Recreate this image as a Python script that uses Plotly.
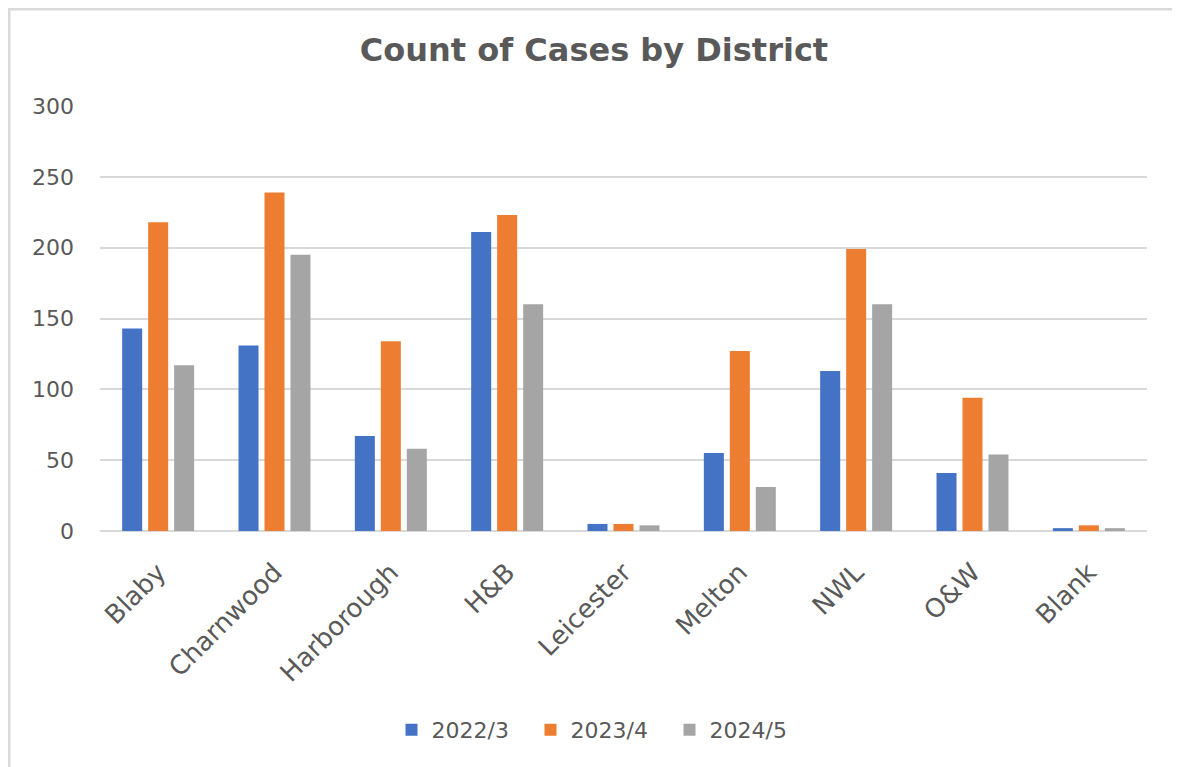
import plotly.graph_objects as go

districts = ["Blaby", "Charnwood", "Harborough", "H&B", "Leicester", "Melton", "NWL", "O&W", "Blank"]
cases_2022_3 = [143, 131, 67, 211, 5, 55, 113, 41, 2]
cases_2023_4 = [218, 239, 134, 223, 5, 127, 199, 94, 4]
cases_2024_5 = [117, 195, 58, 160, 4, 31, 160, 54, 2]
series_names = ["2022/3", "2023/4", "2024/5"]
colors = ["#4472C4", "#ED7D31", "#A5A5A5"]
y_ticks = [0, 50, 100, 150, 200, 250, 300]

# page has an 8px body margin; figure sized to fit the 1180x767 window
OFF = 8
W, H = 1180 - OFF, 767 - OFF
L, R, T = 100 - OFF, 1180 - 1147, 106 - OFF
B = H - (531 - OFF)
FONT = "DejaVu Sans"
TXT = "#595959"

fig = go.Figure()
for name, vals, col in zip(series_names, [cases_2022_3, cases_2023_4, cases_2024_5], colors):
    fig.add_trace(go.Bar(x=districts, y=vals, name=name, marker=dict(color=col, line=dict(width=0))))

pw = W - L - R
ph = H - T - B
def px_x(p):
    return (p - OFF - L) / pw
def px_y(p):
    return (H - B - (p - OFF)) / ph

fig.update_layout(
    width=W, height=H,
    margin=dict(l=L, r=R, t=T, b=B),
    paper_bgcolor="white", plot_bgcolor="white",
    barmode="group", bargap=0.33, bargroupgap=0.23,
    font=dict(family=FONT, color=TXT),
    title=dict(text="<b>Count of Cases by District</b>", x=(594 - OFF) / W, xanchor="center",
               y=1 - (50 - OFF) / H, yanchor="middle", yref="container",
               font=dict(family=FONT, size=32, color=TXT)),
    xaxis=dict(tickangle=-45, tickfont=dict(size=26, color=TXT), showgrid=False,
               showline=False, ticks="", ticklabelstandoff=20),
    yaxis=dict(range=[0, 300], tickvals=y_ticks, tickfont=dict(size=22, color=TXT),
               showgrid=True, gridcolor="#D9D9D9", gridwidth=2, zeroline=True,
               zerolinecolor="#D9D9D9", zerolinewidth=2, showline=False, ticks="",
               ticklabelstandoff=25),
    legend=dict(orientation="h", x=(600 - OFF - L) / pw, xanchor="center", y=px_y(730), yanchor="middle",
                font=dict(size=22, color=TXT), itemwidth=30, entrywidth=94,
                entrywidthmode="pixels", traceorder="normal"),
    shapes=[
        dict(type="line", xref="paper", yref="paper", x0=px_x(OFF), x1=px_x(1185),
             y0=px_y(OFF + 1), y1=px_y(OFF + 1), line=dict(color="#D9D9D9", width=3)),
        dict(type="line", xref="paper", yref="paper", x0=px_x(OFF + 1), x1=px_x(OFF + 1),
             y0=px_y(OFF), y1=px_y(775), line=dict(color="#D9D9D9", width=3)),
    ],
)

fig.write_html("out.html")
